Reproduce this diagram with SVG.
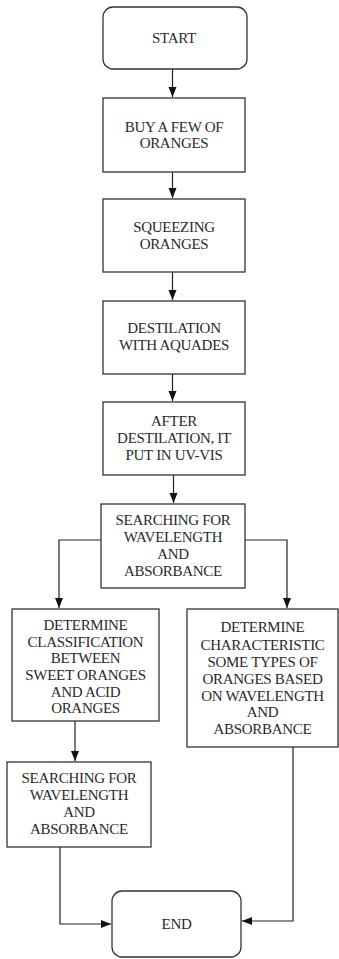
<svg xmlns="http://www.w3.org/2000/svg" width="339" height="959" viewBox="0 0 339 959">
<style>
.box{fill:#fff;stroke:#333;stroke-width:1.3}
.t{font-family:'Liberation Serif','DejaVu Serif',serif;font-size:15px;fill:#2a2a2a;text-anchor:middle;letter-spacing:-0.3px}
.c{fill:none;stroke:#222;stroke-width:1.2}
</style>
<defs>
<marker id="ah" markerUnits="userSpaceOnUse" markerWidth="10" markerHeight="10" viewBox="0 0 10 10" refX="10" refY="5" orient="auto">
<path d="M0,1 L10,5 L0,9 Z" fill="#111"/>
</marker>
</defs>
<g id="connectors">
<path class="c" d="M172.5,69 V97" marker-end="url(#ah)"/>
<path class="c" d="M172.5,172 V198" marker-end="url(#ah)"/>
<path class="c" d="M172.5,272 V300" marker-end="url(#ah)"/>
<path class="c" d="M172.5,374 V401" marker-end="url(#ah)"/>
<path class="c" d="M173.5,475 V503" marker-end="url(#ah)"/>
<path class="c" d="M101,540 H59 V608" marker-end="url(#ah)"/>
<path class="c" d="M245,540 H287 V608" marker-end="url(#ah)"/>
<path class="c" d="M75,721 V761" marker-end="url(#ah)"/>
<path class="c" d="M60,847 V924 H111" marker-end="url(#ah)"/>
<path class="c" d="M293,747 V921 H242" marker-end="url(#ah)"/>
</g>
<g id="start">
<rect class="box" x="103" y="7" width="144" height="62" rx="10"/>
<text class="t" x="174" y="43">START</text>
</g>
<g id="buy">
<rect class="box" x="103" y="98" width="142" height="74"/>
<text class="t" x="174" y="132">BUY A FEW OF</text>
<text class="t" x="174" y="148">ORANGES</text>
</g>
<g id="squeeze">
<rect class="box" x="103" y="199" width="142" height="73"/>
<text class="t" x="174" y="232">SQUEEZING</text>
<text class="t" x="174" y="249">ORANGES</text>
</g>
<g id="destilation">
<rect class="box" x="103" y="301" width="142" height="73"/>
<text class="t" x="174" y="333">DESTILATION</text>
<text class="t" x="174" y="350">WITH AQUADES</text>
</g>
<g id="uvvis">
<rect class="box" x="103" y="402" width="142" height="73"/>
<text class="t" x="174" y="426">AFTER</text>
<text class="t" x="174" y="443">DESTILATION, IT</text>
<text class="t" x="174" y="460">PUT IN UV-VIS</text>
</g>
<g id="search1">
<rect class="box" x="101" y="504" width="144" height="84"/>
<text class="t" x="173" y="525">SEARCHING FOR</text>
<text class="t" x="173" y="542">WAVELENGTH</text>
<text class="t" x="173" y="559">AND</text>
<text class="t" x="173" y="576">ABSORBANCE</text>
</g>
<g id="classify">
<rect class="box" x="12" y="609" width="147" height="112"/>
<text class="t" x="85.5" y="630">DETERMINE</text>
<text class="t" x="85.5" y="647">CLASSIFICATION</text>
<text class="t" x="85.5" y="663">BETWEEN</text>
<text class="t" x="85.5" y="680">SWEET ORANGES</text>
<text class="t" x="85.5" y="697">AND ACID</text>
<text class="t" x="85.5" y="713">ORANGES</text>
</g>
<g id="characteristic">
<rect class="box" x="187" y="609" width="151" height="138"/>
<text class="t" x="262.5" y="632">DETERMINE</text>
<text class="t" x="262.5" y="650">CHARACTERISTIC</text>
<text class="t" x="262.5" y="667">SOME TYPES OF</text>
<text class="t" x="262.5" y="684">ORANGES BASED</text>
<text class="t" x="262.5" y="701">ON WAVELENGTH</text>
<text class="t" x="262.5" y="717">AND</text>
<text class="t" x="262.5" y="734">ABSORBANCE</text>
</g>
<g id="search2">
<rect class="box" x="7" y="762" width="144" height="85"/>
<text class="t" x="79" y="783">SEARCHING FOR</text>
<text class="t" x="79" y="800">WAVELENGTH</text>
<text class="t" x="79" y="817">AND</text>
<text class="t" x="79" y="834">ABSORBANCE</text>
</g>
<g id="end">
<rect class="box" x="112" y="891" width="129" height="66" rx="10"/>
<text class="t" x="176.5" y="929">END</text>
</g>
</svg>
